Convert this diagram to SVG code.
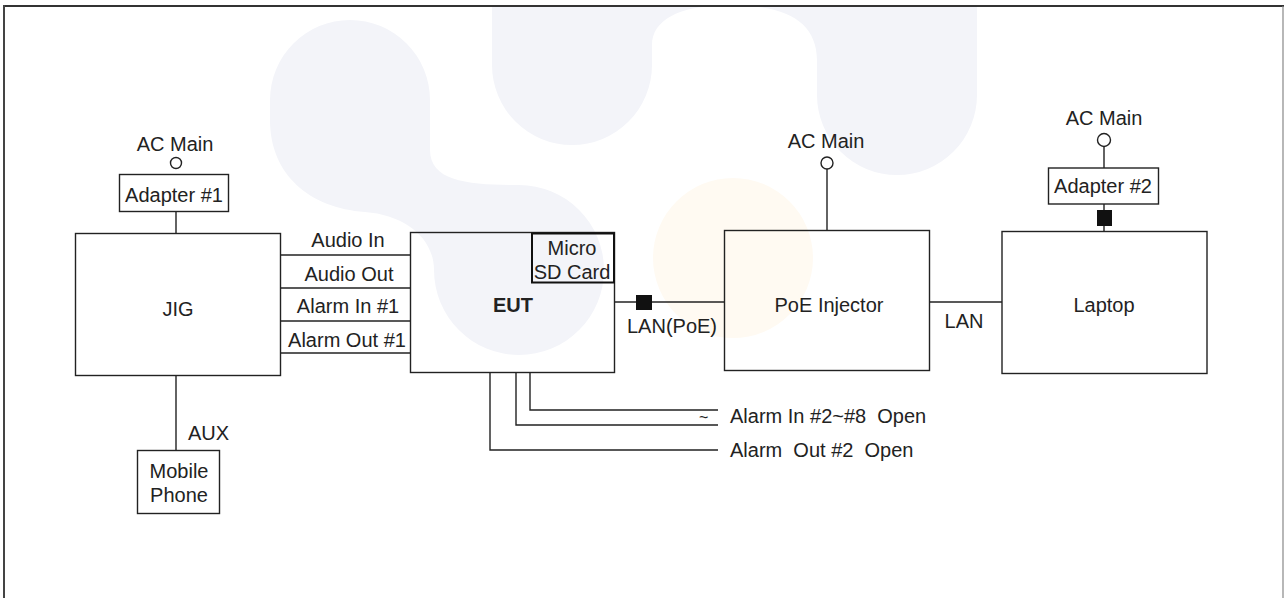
<svg xmlns="http://www.w3.org/2000/svg" width="1284" height="598" viewBox="0 0 1284 598">
<style>
text{font-family:"Liberation Sans",Arial,sans-serif;font-size:20px;fill:#222;white-space:pre}
.c{text-anchor:middle}
.b{font-weight:bold}
.box{fill:none;stroke:#222;stroke-width:1.4}
.ln{fill:none;stroke:#222;stroke-width:1.4}
.wm{fill:#f3f4f9}
</style>
<rect width="1284" height="598" fill="#fff"/>
<g id="watermark">
<path class="wm" d="M270,100 A80,80 0 0 1 430,100 L430,150 C430,182 470,185 519,185 A85,85 0 1 1 434,270 C434,238 405,215 365,212 C310,208 270,175 270,120 Z"/>
<path class="wm" d="M492,6 L492,65 A80,80 0 0 0 652,65 L652,45 C652,20 680,6 720,6 Z"/>
<path class="wm" d="M740,6 C790,6 817,25 817,60 L817,95 A80,80 0 0 0 977,95 L977,6 Z"/>
<circle cx="733" cy="258" r="80" fill="#fffaf2"/>
</g>
<g id="frame">
<line x1="3" y1="6" x2="1284" y2="6" stroke="#333" stroke-width="2"/>
<line x1="4" y1="5" x2="4" y2="598" stroke="#444" stroke-width="2"/>
<line x1="1283" y1="6" x2="1283" y2="598" stroke="#888" stroke-width="1.2"/>
</g>
<g id="connectors">
<line class="ln" x1="176" y1="212" x2="176" y2="233"/>
<line class="ln" x1="176" y1="376" x2="176" y2="450"/>
<line class="ln" x1="281" y1="255" x2="410" y2="255"/>
<line class="ln" x1="281" y1="288" x2="410" y2="288"/>
<line class="ln" x1="281" y1="321" x2="410" y2="321"/>
<line class="ln" x1="281" y1="353" x2="410" y2="353"/>
<line class="ln" x1="615" y1="302" x2="724" y2="302"/>
<rect x="636" y="295" width="16" height="15" fill="#111"/>
<line class="ln" x1="827" y1="169" x2="827" y2="230"/>
<line class="ln" x1="930" y1="302" x2="1002" y2="302"/>
<line class="ln" x1="1104" y1="147" x2="1104" y2="168"/>
<line class="ln" x1="1104" y1="204" x2="1104" y2="231"/>
<rect x="1097" y="210" width="15" height="16" fill="#111"/>
<polyline class="ln" points="530,373 530,410 718,410"/>
<polyline class="ln" points="516,373 516,425 718,425"/>
<polyline class="ln" points="490,373 490,450 718,450"/>
<circle cx="176" cy="163" r="5.5" fill="#fff" stroke="#222" stroke-width="1.4"/>
<circle cx="827" cy="163" r="6" fill="#fff" stroke="#222" stroke-width="1.4"/>
<circle cx="1104" cy="140" r="6.5" fill="#fff" stroke="#222" stroke-width="1.4"/>
<text class="c" x="348" y="247">Audio In</text>
<text class="c" x="349" y="281">Audio Out</text>
<text class="c" x="348" y="313">Alarm In #1</text>
<text class="c" x="347" y="347">Alarm Out #1</text>
<text class="c" x="672" y="333">LAN(PoE)</text>
<text class="c" x="964" y="328">LAN</text>
<text x="188" y="440">AUX</text>
<text x="699" y="423" style="font-size:16px">~</text>
<text x="730" y="423">Alarm In #2~#8  Open</text>
<text x="730" y="457">Alarm  Out #2  Open</text>
</g>
<g id="ac1"><text class="c" x="175" y="151">AC Main</text></g>
<g id="adapter1"><rect class="box" x="119.5" y="174.5" width="109" height="37"/><text class="c" x="174" y="202">Adapter #1</text></g>
<g id="jig"><rect class="box" x="75.5" y="233.5" width="205" height="142"/><text class="c" x="178" y="316">JIG</text></g>
<g id="mobile"><rect class="box" x="137.5" y="450.5" width="82" height="63"/><text class="c" x="179" y="478">Mobile</text><text class="c" x="179" y="502">Phone</text></g>
<g id="eut"><rect class="box" x="410.5" y="232.5" width="204" height="140"/><text class="c b" x="513" y="312">EUT</text></g>
<g id="sdcard"><rect x="532" y="233.5" width="82" height="49" fill="none" stroke="#111" stroke-width="2"/><text class="c" x="572" y="255">Micro</text><text class="c" x="572" y="279">SD Card</text></g>
<g id="ac2"><text class="c" x="826" y="148">AC Main</text></g>
<g id="poe"><rect class="box" x="724.5" y="230.5" width="205" height="140"/><text class="c" x="829" y="312">PoE Injector</text></g>
<g id="ac3"><text class="c" x="1104" y="125">AC Main</text></g>
<g id="adapter2"><rect class="box" x="1048.5" y="168" width="110" height="36"/><text class="c" x="1103" y="193">Adapter #2</text></g>
<g id="laptop"><rect class="box" x="1002" y="231.5" width="205" height="142"/><text class="c" x="1104" y="312">Laptop</text></g>
</svg>
